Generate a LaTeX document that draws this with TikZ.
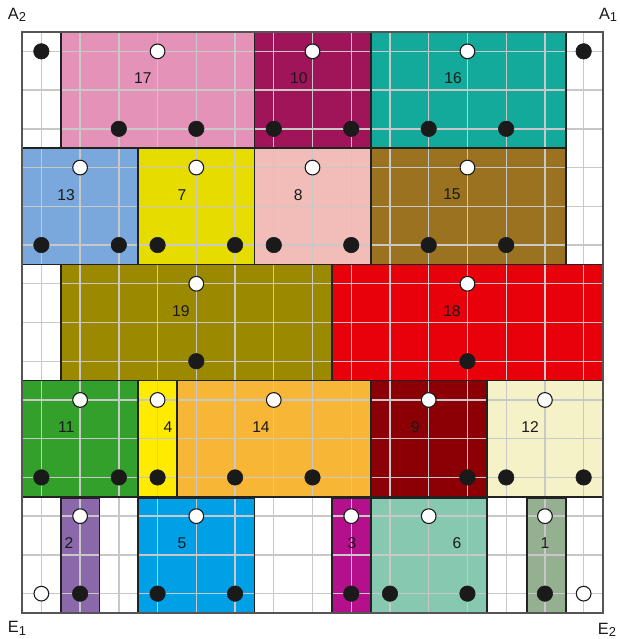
\documentclass[tikz,border=0pt]{standalone}
\usepackage{fontspec}
\setmainfont{Liberation Sans}
\definecolor{cA}{RGB}{229,146,184}
\definecolor{cB}{RGB}{160,20,90}
\definecolor{cC}{RGB}{20,170,155}
\definecolor{cD}{RGB}{123,168,220}
\definecolor{cE}{RGB}{230,220,0}
\definecolor{cF}{RGB}{242,188,184}
\definecolor{cG}{RGB}{155,115,32}
\definecolor{cH}{RGB}{155,138,0}
\definecolor{cI}{RGB}{232,0,10}
\definecolor{cJ}{RGB}{50,160,42}
\definecolor{cK}{RGB}{255,235,0}
\definecolor{cL}{RGB}{248,182,54}
\definecolor{cM}{RGB}{140,0,5}
\definecolor{cN}{RGB}{245,242,200}
\definecolor{cO}{RGB}{139,104,170}
\definecolor{cP}{RGB}{0,160,230}
\definecolor{cQ}{RGB}{180,16,140}
\definecolor{cR}{RGB}{134,200,176}
\definecolor{cS}{RGB}{148,176,144}
\definecolor{dotblack}{RGB}{26,26,26}
\definecolor{edgec}{RGB}{34,34,34}
\definecolor{gridgray}{RGB}{200,200,200}
\definecolor{framec}{RGB}{85,85,85}
\begin{document}
\begin{tikzpicture}[x=1cm,y=1cm,
  blk/.style={circle,fill=dotblack,draw=dotblack,inner sep=0pt,minimum size=0.40cm},
  wht/.style={circle,fill=white,draw=dotblack,line width=0.8pt,inner sep=0pt,minimum size=0.38cm},
  lbl/.style={font=\fontsize{11.5}{13}\selectfont,text=dotblack,inner sep=0pt},
  corner/.style={font=\fontsize{12}{13}\selectfont,text=dotblack,inner sep=0pt},
  piece/.style={draw=edgec,line width=1.3pt},
  gridline/.style={draw=gridgray,line width=1pt}]
\useasboundingbox (-0.568,-0.671) rectangle (15.414,15.826);
\fill[white] (-0.568,-0.671) rectangle (15.414,15.826);
\begin{scope}[shift={(0,15)},y=-1cm]
% fills
\foreach \a/\b/\c/\d/\col in {1/0/6/3/cA, 6/0/9/3/cB, 9/0/14.04/3/cC,
  0/3/3/6/cD, 3/3/6/6/cE, 6/3/9/6/cF, 9/3/14.04/6/cG,
  1/6/8/9/cH, 8/6/15/9/cI,
  0/9/3/12/cJ, 3/9/4/12/cK, 4/9/9/12/cL, 9/9/12/12/cM, 12/9/15/12/cN,
  1/12.04/2/15/cO, 3/12.04/6/15/cP, 8/12.04/9/15/cQ, 9/12.04/12/15/cR, 13.04/12.04/14.04/15/cS}
  \fill[\col] (\a,\b) rectangle (\c,\d);
% grid
\foreach \k in {0.5,1.5,...,14.5} {
  \draw[gridline] (\k,0) -- (\k,15);
  \draw[gridline] (0,\k) -- (15,\k);
}
% piece borders
\foreach \a/\b/\c/\d in {1/0/6/3, 6/0/9/3, 9/0/14.04/3,
  0/3/3/6, 3/3/6/6, 6/3/9/6, 9/3/14.04/6,
  1/6/8/9, 8/6/15/9,
  0/9/3/12, 3/9/4/12, 4/9/9/12, 9/9/12/12, 12/9/15/12,
  1/12.04/2/15, 3/12.04/6/15, 8/12.04/9/15, 9/12.04/12/15, 13.04/12.04/14.04/15}
  \draw[piece] (\a,\b) rectangle (\c,\d);
% frame
\draw[draw=framec,line width=1.2pt] (0,0) rectangle (15,15);
% labels
\foreach \x/\y/\t in {3.12/1.2/17, 7.15/1.2/10, 11.13/1.2/16,
  1.14/4.2/13, 4.13/4.2/7, 7.13/4.2/8, 11.1/4.2/15,
  4.1/7.2/19, 11.1/7.2/18,
  1.14/10.2/11, 3.77/10.2/4, 6.17/10.2/14, 10.15/10.2/9, 13.12/10.2/12,
  1.21/13.2/2, 4.13/13.2/5, 8.52/13.2/3, 11.23/13.2/6, 13.5/13.2/1}
  \node[lbl] (n\t) at (\x,\y) {\t};
% black dots
\foreach \u/\v [count=\i] in {0.5/0.5, 2.5/2.5, 4.5/2.5, 6.5/2.5, 8.5/2.5, 10.5/2.5, 12.5/2.5, 14.5/0.5,
  0.5/5.5, 2.5/5.5, 3.5/5.5, 5.5/5.5, 6.5/5.5, 8.5/5.5, 10.5/5.5, 12.5/5.5,
  4.5/8.5, 11.5/8.5,
  0.5/11.5, 2.5/11.5, 3.5/11.5, 5.5/11.5, 7.5/11.5, 11.5/11.5, 12.5/11.5, 14.5/11.5,
  1.5/14.5, 3.5/14.5, 5.5/14.5, 8.5/14.5, 9.5/14.5, 11.5/14.5, 13.5/14.5}
  \node[blk] (b\i) at (\u,\v) {};
% white dots
\foreach \u/\v [count=\i] in {3.5/0.5, 7.5/0.5, 11.5/0.5,
  1.5/3.5, 4.5/3.5, 7.5/3.5, 11.5/3.5,
  4.5/6.5, 11.5/6.5,
  1.5/9.5, 3.5/9.5, 6.5/9.5, 10.5/9.5, 13.5/9.5,
  1.5/12.5, 4.5/12.5, 8.5/12.5, 10.5/12.5, 13.5/12.5, 0.5/14.5, 14.5/14.5}
  \node[wht] (w\i) at (\u,\v) {};
% corner labels
\node[corner] (A2) at (-0.13,-0.44) {A\raisebox{-0.3ex}{\fontsize{9.5}{9.5}\selectfont 2}};
\node[corner] (A1) at (15.13,-0.44) {A\raisebox{-0.3ex}{\fontsize{9.5}{9.5}\selectfont 1}};
\node[corner] (E1) at (-0.13,15.39) {E\raisebox{-0.3ex}{\fontsize{9.5}{9.5}\selectfont 1}};
\node[corner] (E2) at (15.1,15.44) {E\raisebox{-0.3ex}{\fontsize{9.5}{9.5}\selectfont 2}};
\end{scope}
\end{tikzpicture}
\end{document}
